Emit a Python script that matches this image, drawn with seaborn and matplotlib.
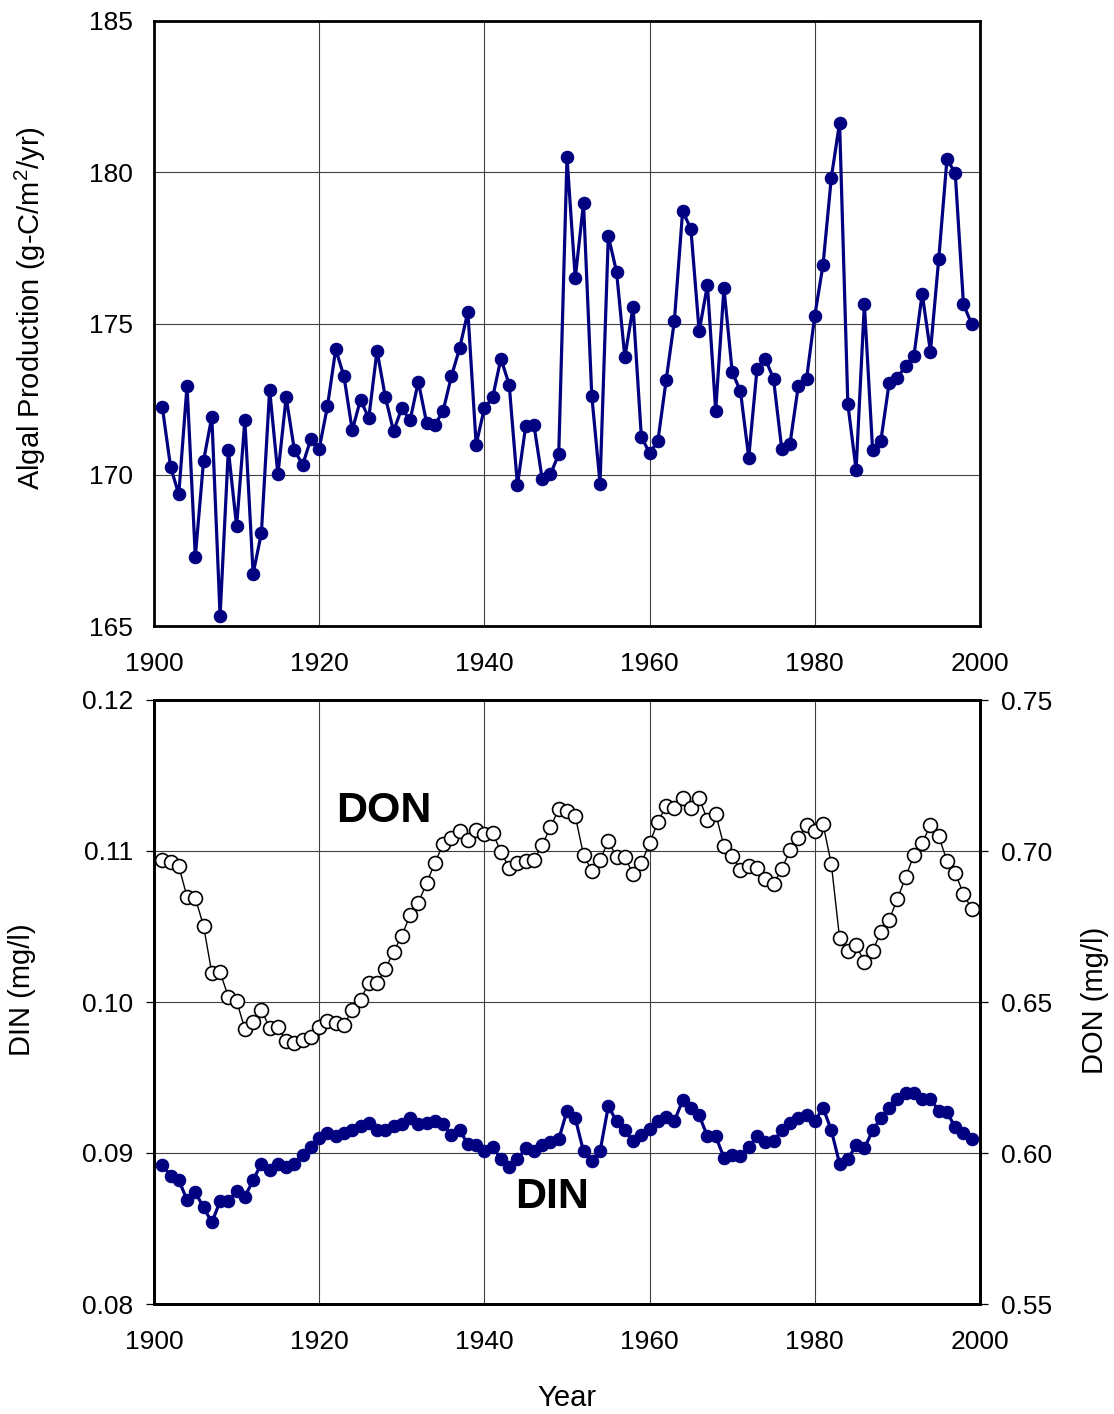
import matplotlib
matplotlib.use("Agg")
import matplotlib.pyplot as plt
import seaborn as sns
import numpy as np
import pandas as pd
from matplotlib.ticker import FormatStrFormatter, MultipleLocator

# ---------------- data ----------------
years = list(range(1901, 2000))

algal_production = [
    172.25, 170.27, 169.35, 172.95, 167.29, 170.46, 171.92, 165.33, 170.83, 168.29,
    171.80, 166.73, 168.07, 172.81, 170.01, 172.56, 170.81, 170.33, 171.19, 170.86,
    172.26, 174.15, 173.25, 171.47, 172.48, 171.87, 174.10, 172.58, 171.44, 172.20,
    171.80, 173.08, 171.72, 171.64, 172.11, 173.25, 174.18, 175.39, 171.00, 172.20,
    172.56, 173.84, 172.98, 169.66, 171.61, 171.64, 169.85, 170.01, 170.69, 180.49,
    176.50, 178.98, 172.61, 169.71, 177.89, 176.71, 173.88, 175.55, 171.25, 170.72,
    171.11, 173.12, 175.09, 178.72, 178.12, 174.74, 176.27, 172.11, 176.17, 173.40,
    172.76, 170.57, 173.48, 173.84, 173.17, 170.85, 171.03, 172.93, 173.17, 175.26,
    176.95, 179.82, 181.64, 172.34, 170.16, 175.65, 170.81, 171.13, 173.03, 173.21,
    173.60, 173.93, 175.99, 174.07, 177.12, 180.43, 179.98, 175.63, 174.98,
]

din = [
    0.0892, 0.0885, 0.0882, 0.0869, 0.0874, 0.0864, 0.0854, 0.0868, 0.0868, 0.0875,
    0.0871, 0.0882, 0.0893, 0.0889, 0.0893, 0.0891, 0.0893, 0.0899, 0.0904, 0.0910,
    0.0913, 0.0911, 0.0913, 0.0915, 0.0918, 0.0920, 0.0915, 0.0915, 0.0918, 0.0919,
    0.0923, 0.0919, 0.0920, 0.0921, 0.0919, 0.0912, 0.0915, 0.0906, 0.0905, 0.0901,
    0.0904, 0.0896, 0.0891, 0.0896, 0.0903, 0.0901, 0.0905, 0.0907, 0.0909, 0.0928,
    0.0923, 0.0901, 0.0895, 0.0901, 0.0931, 0.0921, 0.0915, 0.0908, 0.0912, 0.0916,
    0.0921, 0.0924, 0.0921, 0.0935, 0.0930, 0.0925, 0.0911, 0.0911, 0.0897, 0.0899,
    0.0898, 0.0904, 0.0911, 0.0907, 0.0908, 0.0915, 0.0920, 0.0923, 0.0925, 0.0921,
    0.0930, 0.0915, 0.0893, 0.0896, 0.0905, 0.0903, 0.0915, 0.0923, 0.0930, 0.0936,
    0.0940, 0.0940, 0.0936, 0.0936, 0.0928, 0.0927, 0.0917, 0.0913, 0.0909,
]

don = [
    0.6970, 0.6964, 0.6950, 0.6848, 0.6844, 0.6752, 0.6596, 0.6599, 0.6517, 0.6503,
    0.6411, 0.6434, 0.6474, 0.6414, 0.6417, 0.6371, 0.6364, 0.6374, 0.6384, 0.6417,
    0.6437, 0.6430, 0.6424, 0.6474, 0.6507, 0.6563, 0.6563, 0.6609, 0.6666, 0.6719,
    0.6788, 0.6828, 0.6894, 0.6960, 0.7023, 0.7043, 0.7066, 0.7036, 0.7070, 0.7056,
    0.7060, 0.6997, 0.6944, 0.6960, 0.6967, 0.6970, 0.7020, 0.7079, 0.7139, 0.7132,
    0.7116, 0.6987, 0.6934, 0.6970, 0.7033, 0.6980, 0.6980, 0.6924, 0.6960, 0.7026,
    0.7096, 0.7149, 0.7142, 0.7175, 0.7142, 0.7175, 0.7103, 0.7123, 0.7017, 0.6983,
    0.6937, 0.6950, 0.6944, 0.6907, 0.6891, 0.6940, 0.7003, 0.7043, 0.7086, 0.7066,
    0.7089, 0.6957, 0.6712, 0.6669, 0.6689, 0.6632, 0.6669, 0.6732, 0.6772, 0.6841,
    0.6914, 0.6987, 0.7026, 0.7086, 0.7050, 0.6967, 0.6927, 0.6858, 0.6808,
]

x_ticks = [1900, 1920, 1940, 1960, 1980, 2000]

# ---------------- style ----------------
sns.set_style("white")
plt.rcParams["font.family"] = ["Liberation Sans", "DejaVu Sans"]
plt.rcParams["mathtext.fontset"] = "custom"
plt.rcParams["mathtext.rm"] = "Liberation Sans"
plt.rcParams["mathtext.it"] = "Liberation Sans:italic"
plt.rcParams["mathtext.default"] = "regular"
for key in ["text.color", "axes.labelcolor", "xtick.color", "ytick.color"]:
    plt.rcParams[key] = "black"

FS = 19
FS_TITLE = 21
NAVY = "#000080"
W, H = 1114, 1414
fig = plt.figure(figsize=(W / 100, H / 100), dpi=100)


def px_axes(left, top, right, bottom):
    return fig.add_axes([left / W, 1 - bottom / H, (right - left) / W, (bottom - top) / H])


def style_axes(ax):
    for s in ax.spines.values():
        s.set_color("black")
        s.set_linewidth(2.0)
    ax.grid(True, color="#404040", linewidth=0.8)
    ax.set_axisbelow(True)
    ax.tick_params(axis="both", which="major", direction="out", length=6, width=0.9,
                   color="black", labelsize=FS, labelcolor="black")
    ax.tick_params(axis="x", pad=13)
    ax.tick_params(axis="y", pad=9)
    ax.set_xlim(1900, 2000)
    ax.set_xticks(x_ticks)
    ax.set_xlabel("")
    ax.set_ylabel("")


# ---------------- top panel ----------------
ax1 = px_axes(154, 21, 980, 626)
df_top = pd.DataFrame({"Year": years, "Algal": algal_production})
sns.lineplot(data=df_top, x="Year", y="Algal", ax=ax1, color=NAVY, linewidth=2.3,
             marker="o", markersize=9, markerfacecolor=NAVY, markeredgecolor=NAVY,
             zorder=3)
style_axes(ax1)
ax1.set_ylim(165, 185)
ax1.yaxis.set_major_locator(MultipleLocator(5))

# ---------------- bottom panel ----------------
ax2 = px_axes(154, 700, 980, 1304)
df_bot = pd.DataFrame({"Year": years, "DIN": din, "DON": don})
sns.lineplot(data=df_bot, x="Year", y="DIN", ax=ax2, color=NAVY, linewidth=2.3,
             marker="o", markersize=9, markerfacecolor=NAVY, markeredgecolor=NAVY,
             zorder=3)
style_axes(ax2)
ax2.set_ylim(0.08, 0.12)
ax2.yaxis.set_major_locator(MultipleLocator(0.01))
ax2.yaxis.set_major_formatter(FormatStrFormatter("%.2f"))

ax3 = ax2.twinx()
sns.lineplot(data=df_bot, x="Year", y="DON", ax=ax3, color="black", linewidth=1.0,
             marker="o", markersize=10, markerfacecolor="white", markeredgecolor="black",
             markeredgewidth=1.2, zorder=3)
ax3.set_ylim(0.55, 0.75)
ax3.yaxis.set_major_locator(MultipleLocator(0.05))
ax3.yaxis.set_major_formatter(FormatStrFormatter("%.2f"))
ax3.set_ylabel("")
ax3.grid(False)
for s in ax3.spines.values():
    s.set_color("black")
    s.set_linewidth(2.0)
ax3.tick_params(axis="y", direction="out", length=6, width=0.9, color="black",
                labelsize=FS, labelcolor="black", pad=9)

# series labels
ax2.text(1927.8, 0.11265, "DON", fontsize=31, fontweight="bold", ha="center", va="center",
         color="black")
ax2.text(1948.2, 0.08709, "DIN", fontsize=31, fontweight="bold", ha="center", va="center",
         color="black", zorder=5)

# axis titles
fig.text(30 / W, 1 - 308 / H, "Algal Production (g-C/m$^2$/yr)", rotation=90,
         ha="center", va="center", fontsize=FS_TITLE, color="black")
fig.text(22 / W, 1 - 990 / H, "DIN (mg/l)", rotation=90, ha="center", va="center",
         fontsize=FS_TITLE, color="black")
fig.text(1095 / W, 1 - 1000 / H, "DON (mg/l)", rotation=90, ha="center", va="center",
         fontsize=FS_TITLE, color="black")
fig.text(567 / W, 1 - 1398 / H, "Year", ha="center", va="center", fontsize=FS_TITLE,
         color="black")

fig.savefig("out.png", dpi=100, facecolor="white")
